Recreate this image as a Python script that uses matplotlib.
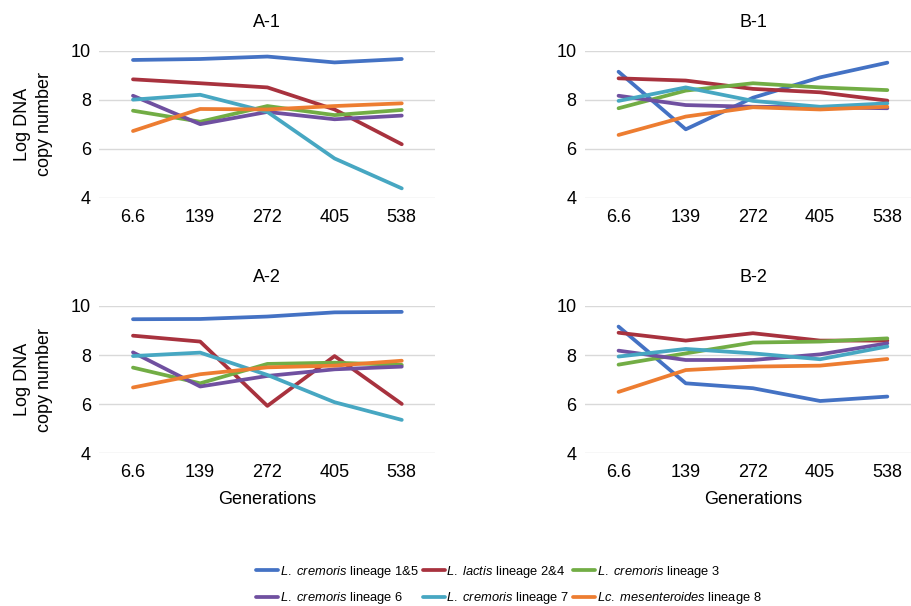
import numpy as np
import matplotlib
matplotlib.use("Agg")
from matplotlib import pyplot as plt

plt.rcParams['font.family'] = ['Liberation Sans', 'DejaVu Sans']
plt.rcParams['mathtext.fontset'] = 'custom'
plt.rcParams['mathtext.rm'] = 'Liberation Sans'
plt.rcParams['mathtext.it'] = 'Liberation Sans:italic'

# generations (category axis)
generations = ["6.6", "139", "272", "405", "538"]

series_names = [r"$\it{L.\ cremoris}$ lineage 1&5",
                r"$\it{L.\ lactis}$ lineage 2&4",
                r"$\it{L.\ cremoris}$ lineage 3",
                r"$\it{L.\ cremoris}$ lineage 6",
                r"$\it{L.\ cremoris}$ lineage 7",
                r"$\it{Lc.\ mesenteroides}$ lineage 8"]
colors = ['#4472C4', '#A8323E', '#72AD45', '#7050A0', '#47A7C2', '#ED7D31']

# log DNA copy number, one list per lineage (same order as series_names)
a1 = [[9.62, 9.66, 9.76, 9.52, 9.66],
      [8.83, 8.67, 8.50, 7.60, 6.18],
      [7.55, 7.10, 7.74, 7.37, 7.58],
      [8.16, 7.00, 7.50, 7.20, 7.35],
      [8.00, 8.20, 7.50, 5.60, 4.38],
      [6.72, 7.62, 7.60, 7.74, 7.85]]

b1 = [[9.14, 6.79, 8.08, 8.91, 9.51],
      [8.87, 8.78, 8.44, 8.30, 7.96],
      [7.65, 8.37, 8.67, 8.50, 8.39],
      [8.16, 7.78, 7.71, 7.69, 7.65],
      [7.95, 8.50, 7.95, 7.71, 7.85],
      [6.56, 7.31, 7.69, 7.60, 7.71]]

a2 = [[9.46, 9.47, 9.57, 9.74, 9.76],
      [8.79, 8.55, 5.93, 7.96, 6.01],
      [7.49, 6.85, 7.64, 7.69, 7.60],
      [8.11, 6.72, 7.15, 7.42, 7.53],
      [7.96, 8.10, 7.19, 6.08, 5.36],
      [6.68, 7.22, 7.50, 7.57, 7.77]]

b2 = [[9.16, 6.85, 6.65, 6.13, 6.31],
      [8.91, 8.59, 8.89, 8.59, 8.59],
      [7.61, 8.07, 8.51, 8.55, 8.68],
      [8.18, 7.80, 7.80, 8.03, 8.48],
      [7.94, 8.25, 8.07, 7.83, 8.35],
      [6.50, 7.39, 7.53, 7.57, 7.84]]

panels = [("A-1", a1, [0.1091, 0.6738, 0.3688, 0.2426]),
          ("B-1", b1, [0.6421, 0.6738, 0.3688, 0.2426]),
          ("A-2", a2, [0.1091, 0.2520, 0.3688, 0.2431]),
          ("B-2", b2, [0.6421, 0.2520, 0.3688, 0.2431])]

fig = plt.figure(figsize=(9.11, 6.06), dpi=100)
x = np.arange(len(generations))

handles = []
for title, data, pos in panels:
    ax = fig.add_axes(pos)
    for vals, c in zip(data, colors):
        ln, = ax.plot(x, vals, color=c, lw=2.7, solid_capstyle='round', zorder=3, clip_on=False)
        if title == "A-1":
            handles.append(ln)
    ax.set_xlim(-0.5, 4.5)
    ax.set_ylim(4, 10)
    ax.set_yticks([4, 6, 8, 10])
    ax.set_xticks(x)
    ax.set_xticklabels(generations)
    ax.grid(axis='y', color='#D9D9D9', lw=1.0, zorder=0)
    for s in ['top', 'right', 'left', 'bottom']:
        ax.spines[s].set_visible(False)
    ax.tick_params(length=0, labelsize=13, colors='black')
    ax.tick_params(axis='x', pad=8)
    ax.tick_params(axis='y', pad=6)
    ax.set_title(title, fontsize=13, pad=17)
    if title.startswith("A"):
        ax.set_ylabel("Log DNA\ncopy number", fontsize=13, linespacing=1.4)
        ax.yaxis.set_label_coords(-0.138, 0.5)
    if title.endswith("2"):
        ax.set_xlabel("Generations", fontsize=13, labelpad=7)

# legend fills column by column, so reorder to get row-wise entries
order = [0, 3, 1, 4, 2, 5]
fig.legend([handles[i] for i in order], [series_names[i] for i in order],
           ncol=3, loc='upper left',
           bbox_to_anchor=(256 / 911, 1 - 564 / 606), frameon=False,
           fontsize=9.3, handlelength=1.7, handletextpad=0.15,
           columnspacing=0.3, labelspacing=0.8, borderpad=0, borderaxespad=0)

fig.savefig("out.png", dpi=100)
